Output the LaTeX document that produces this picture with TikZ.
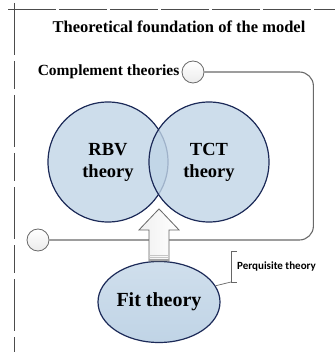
\documentclass[tikz,border=0pt]{standalone}
\usepackage{fontspec}
\setmainfont{Liberation Serif}
\newfontfamily\notefont{Carlito}
\usetikzlibrary{shapes.geometric,positioning}

\definecolor{venn}{RGB}{192,212,230}
\definecolor{vennline}{RGB}{28,42,88}
\definecolor{linkgray}{RGB}{105,105,105}

\tikzset{
  theory/.style={circle, draw=vennline, line width=1.2pt, fill=venn, fill opacity=0.8,
    text opacity=1, minimum size=120pt, inner sep=0pt, align=center,
    font=\fontsize{18.5}{22}\selectfont\bfseries},
  knob/.style={circle, draw=linkgray, line width=0.8pt, top color=white, bottom color=gray!15,
    minimum size=22pt, inner sep=0pt},
  link/.style={draw=linkgray, line width=1.1pt, rounded corners=14pt},
  frame/.style={draw=black!70, line width=0.9pt},
  hollow/.style={draw=gray!80!black, line width=0.8pt, left color=gray!12, right color=white},
  callout/.style={draw=gray!80!black, line width=0.7pt},
}

\begin{document}
\begin{tikzpicture}[x=1pt,y=-1pt]
\useasboundingbox (0,0) rectangle (335,352);

%% frame
\draw[frame, dash pattern=on 48pt off 3pt] (8,9) -- (335,9);
\draw[frame, dash pattern=on 52pt off 6pt on 28pt off 6pt] (14,3) -- (14,352);

\node (title) at (179,27) {\fontsize{16.5}{18}\selectfont\bfseries Theoretical foundation of the model};

%% complements
\node[knob] (cr) at (193,72) {};
\node[knob] (cl) at (38,240) {};
\node[left=2pt of cr, inner sep=0pt] (comp) {\fontsize{15.5}{16}\selectfont\bfseries Complement theories};
\draw[link] (cr.east) -- ++(109,0) |- (cl.east);

\node[theory] (rbv) at (108,162) {RBV\\theory};
\node[theory] (tct) at (209,162) {TCT\\theory};

%% prerequisite
\node[ellipse, draw=vennline, line width=1.2pt, top color=venn!75, bottom color=venn,
  minimum width=122pt, minimum height=81pt, inner sep=0pt,
  font=\fontsize{20}{20}\selectfont\bfseries] (fit) at (159,302) {Fit theory};

\draw[hollow] (fit.north) ++(-10,0) -- ++(0,-31) -- ++(-10,0) -- ++(20,-21)
  -- ++(20,21) -- ++(-10,0) -- ++(0,31) -- cycle;
\draw[gray!45] ([xshift=-10pt,yshift=6pt]fit.north) -- ++(20,0);
\draw[gray!45] ([xshift=-10pt,yshift=4pt]fit.north) -- ++(20,0);
\fill[gray!70] ([xshift=-10pt,yshift=2pt]fit.north) rectangle ([xshift=10pt]fit.north);

\node[anchor=west, inner sep=0pt, font=\notefont\bfseries\fontsize{11}{12}\selectfont] (perq) at (237,267) {Perquisite theory};
\coordinate (brk) at (231,282);
\draw[callout] (237,251) -- (231,251) -- (brk) -- (237,282);
\draw[callout] (fit.16) -- (brk);
\end{tikzpicture}
\end{document}
